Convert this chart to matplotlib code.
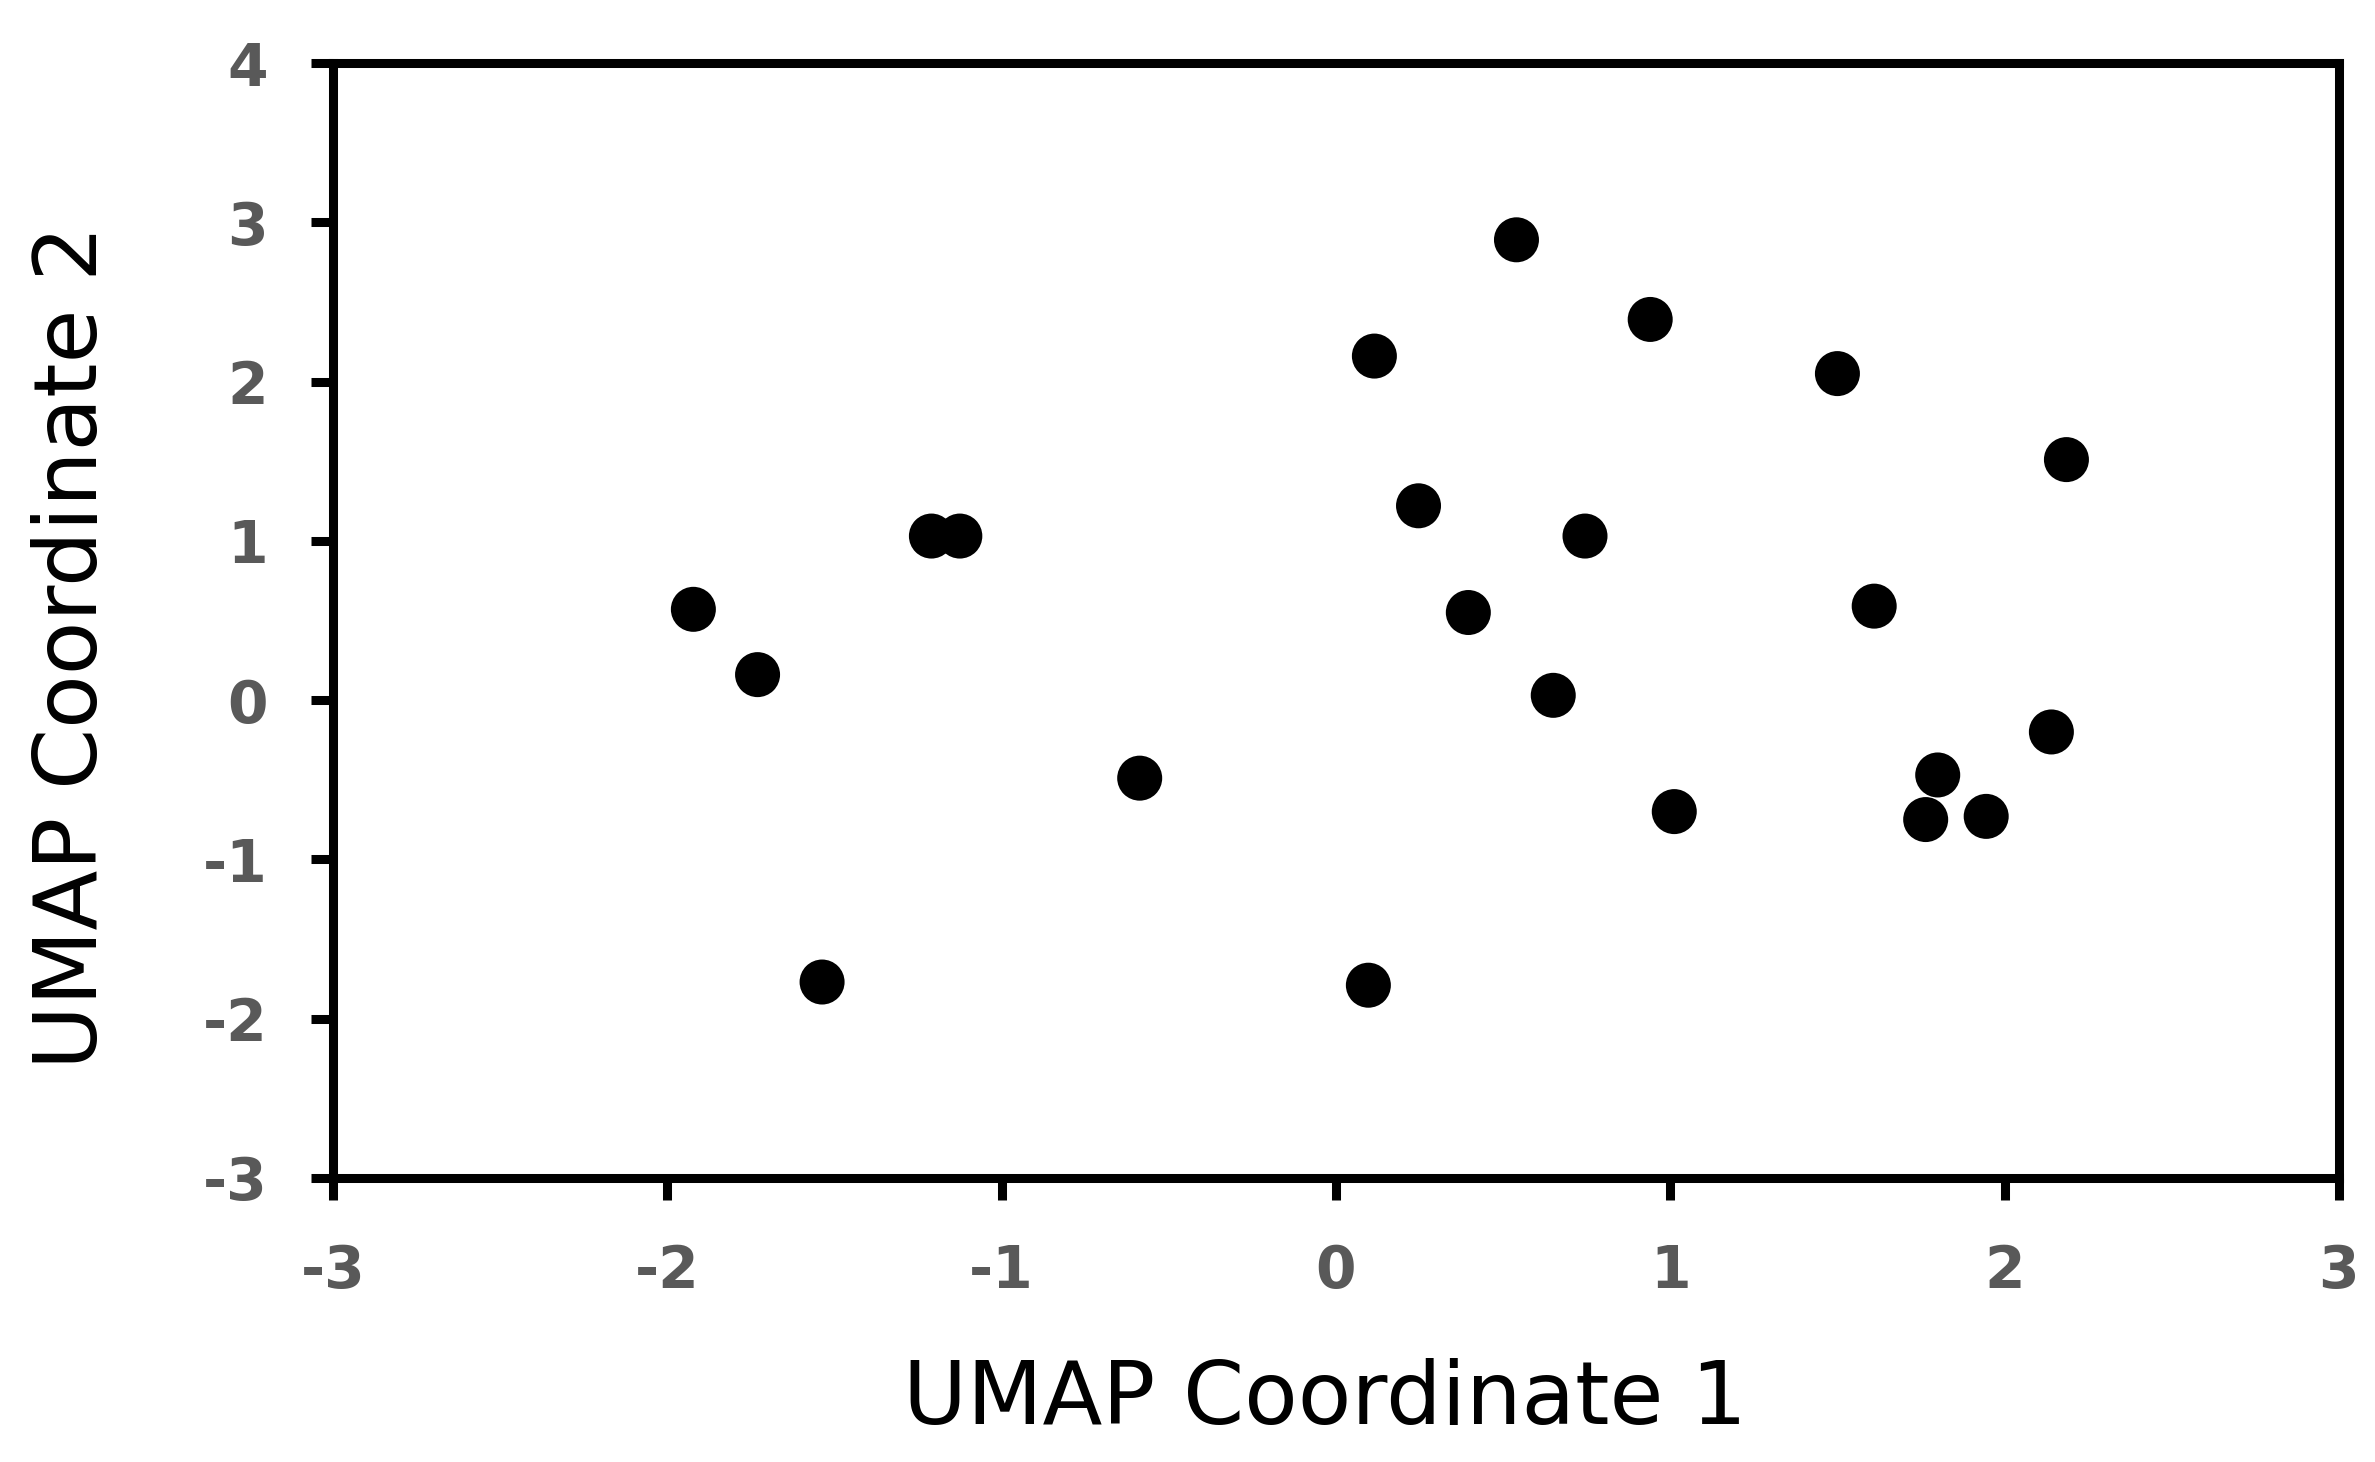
import matplotlib
matplotlib.use("Agg")
import matplotlib.pyplot as plt

# --- data ---
umap1 = [0.54, 0.94, 0.115, 1.50, 2.185, -1.21, -1.125, 0.247, 0.745, -1.922, -1.73,
         0.396, 1.61, 0.65, -0.587, 1.012, 1.80, 1.764, 1.945, 2.14, -1.537, 0.097]
umap2 = [2.89, 2.39, 2.16, 2.05, 1.51, 1.03, 1.03, 1.22, 1.03, 0.57, 0.16,
         0.55, 0.59, 0.03, -0.49, -0.70, -0.47, -0.75, -0.73, -0.20, -1.77, -1.79]
xticks = [-3, -2, -1, 0, 1, 2, 3]
yticks = [-3, -2, -1, 0, 1, 2, 3, 4]

fig = plt.figure(figsize=(23.75, 14.62), dpi=100)
ax = fig.add_axes([0.1402, 0.1943, 0.8446, 0.7626])

ax.scatter(umap1, umap2, s=1050, color="black", edgecolors="none", zorder=3)

ax.set_xlim(-3, 3)
ax.set_ylim(-3, 4)
ax.set_xticks(xticks)
ax.set_yticks(yticks)
ax.set_xticklabels([str(t) for t in xticks])
ax.set_yticklabels([str(t) for t in yticks])

for sp in ax.spines.values():
    sp.set_linewidth(6.5)
    sp.set_color("black")

ax.tick_params(direction="out", length=16, width=6.5, color="black",
               labelsize=42, labelcolor="#595959", pad=31)
for lab in ax.get_xticklabels() + ax.get_yticklabels():
    lab.set_fontweight("bold")

ax.set_xlabel("UMAP Coordinate 1", fontsize=63, va="baseline")
ax.xaxis.set_label_coords(0.4945, -0.2206)
ax.set_ylabel("UMAP Coordinate 2", fontsize=63, va="baseline")
ax.yaxis.set_label_coords(-0.1176, 0.476)

fig.savefig("out.png", dpi=100, facecolor="white")
